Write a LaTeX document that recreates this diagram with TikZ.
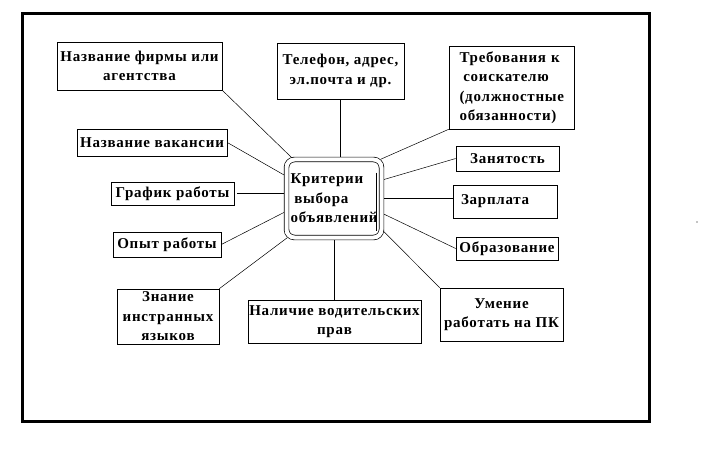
\documentclass[tikz,border=0pt]{standalone}
\usepackage{fontspec}
\setmainfont[LetterSpace=5]{Liberation Serif}
\usetikzlibrary{backgrounds,positioning}

\begin{document}
\begin{tikzpicture}[x=1pt,y=-1pt]
	\tikzstyle{Box}		= [draw, line width=0.6pt, fill=white, inner sep=0pt, align=center, font=\fontsize{15}{19.5}\selectfont\bfseries]
	\tikzstyle{Core}	= [draw, line width=0.7pt, rounded corners=8pt, double, double distance=4pt, fill=white, inner sep=0pt]
	\tikzstyle{Link}	= [line width=0.5pt]

	\useasboundingbox (0,0) rectangle (724,460);
	\draw [line width=3pt] (22.5,13.5) rectangle (649,421.5);

	% centre
	\node (crit) at (334,198.5) [Box][Core, minimum width=95pt, minimum height=78pt, text width=87pt, align=left] {Критерии\\\hspace*{0.25em}выбора\\объявлений};
	\draw [line width=1.2pt] ([xshift=-5pt,yshift=26pt]crit.east) -- ([xshift=-5pt,yshift=-32pt]crit.east);

	% left side
	\node (firm)     at (139.5,66)  [Box, minimum width=165pt, minimum height=48pt] {Название фирмы или\\агентства};
	\node (vacancy)  at (152,142.5) [Box, minimum width=150pt, minimum height=27pt] {Название вакансии};
	\node (schedule) at (172.5,193.5) [Box, minimum width=123pt, minimum height=23pt] {График работы};
	\node (exper)    at (167,244.5) [Box, minimum width=108pt, minimum height=25pt] {Опыт работы};
	\node (lang)     at (168,316.5) [Box, minimum width=102pt, minimum height=55pt] {Знание\\инстранных\\языков};

	% top and bottom
	\node (phone) at (340.5,71)   [Box, minimum width=127pt, minimum height=56pt] {Телефон, адрес,\\эл.почта и др.};
	\node (drive) at (334.5,321.5) [Box, minimum width=173pt, minimum height=43pt] {Наличие водительских\\прав};

	% right side
	\node (req)    at (511.5,87.5) [Box, minimum width=125pt, minimum height=83pt, text width=104pt, align=left] {Требования к\\\hspace*{0.25em}соискателю\\(должностные\\обязанности)};
	\node (employ) at (507.5,158.5) [Box, minimum width=103pt, minimum height=25pt] {Занятость};
	\node (salary) at (505,201.5)  [Box, minimum width=104pt, minimum height=33pt, text width=88pt, align=left] {Зарплата};
	\node (educ)   at (507,248.5)  [Box, minimum width=102pt, minimum height=23pt] {Образование};
	\node (pc)     at (501.5,314.5) [Box, minimum width=123pt, minimum height=53pt] {Умение\\работать на ПК};

	\begin{scope}[on background layer]
		\draw [-] (firm.south east) to (crit.136) [Link];
		\draw [-] (vacancy.east) to (crit.155) [Link];
		\draw [-, shorten <=3pt, shorten >=2pt] (schedule.east) to (schedule.east -| crit.west) [Link];
		\draw [-] (exper.east) to (crit.195) [Link];
		\draw [-] (lang.north east) to (crit.220) [Link];
		\draw [-] (phone.south) to (phone.south |- crit.north) [Link];
		\draw [-] (crit.south) to (crit.south |- drive.north) [Link];
		\draw [-] (req.south west) to (crit.40) [Link];
		\draw [-] (employ.west) to (crit.21) [Link];
		\draw [-] (crit.east) to (crit.east -| salary.west) [Link];
		\draw [-] (educ.west) to (crit.-17) [Link];
		\draw [-] (pc.north west) to (crit.-33) [Link];
	\end{scope}

	\fill (697,222) circle (0.7pt);
\end{tikzpicture}
\end{document}
